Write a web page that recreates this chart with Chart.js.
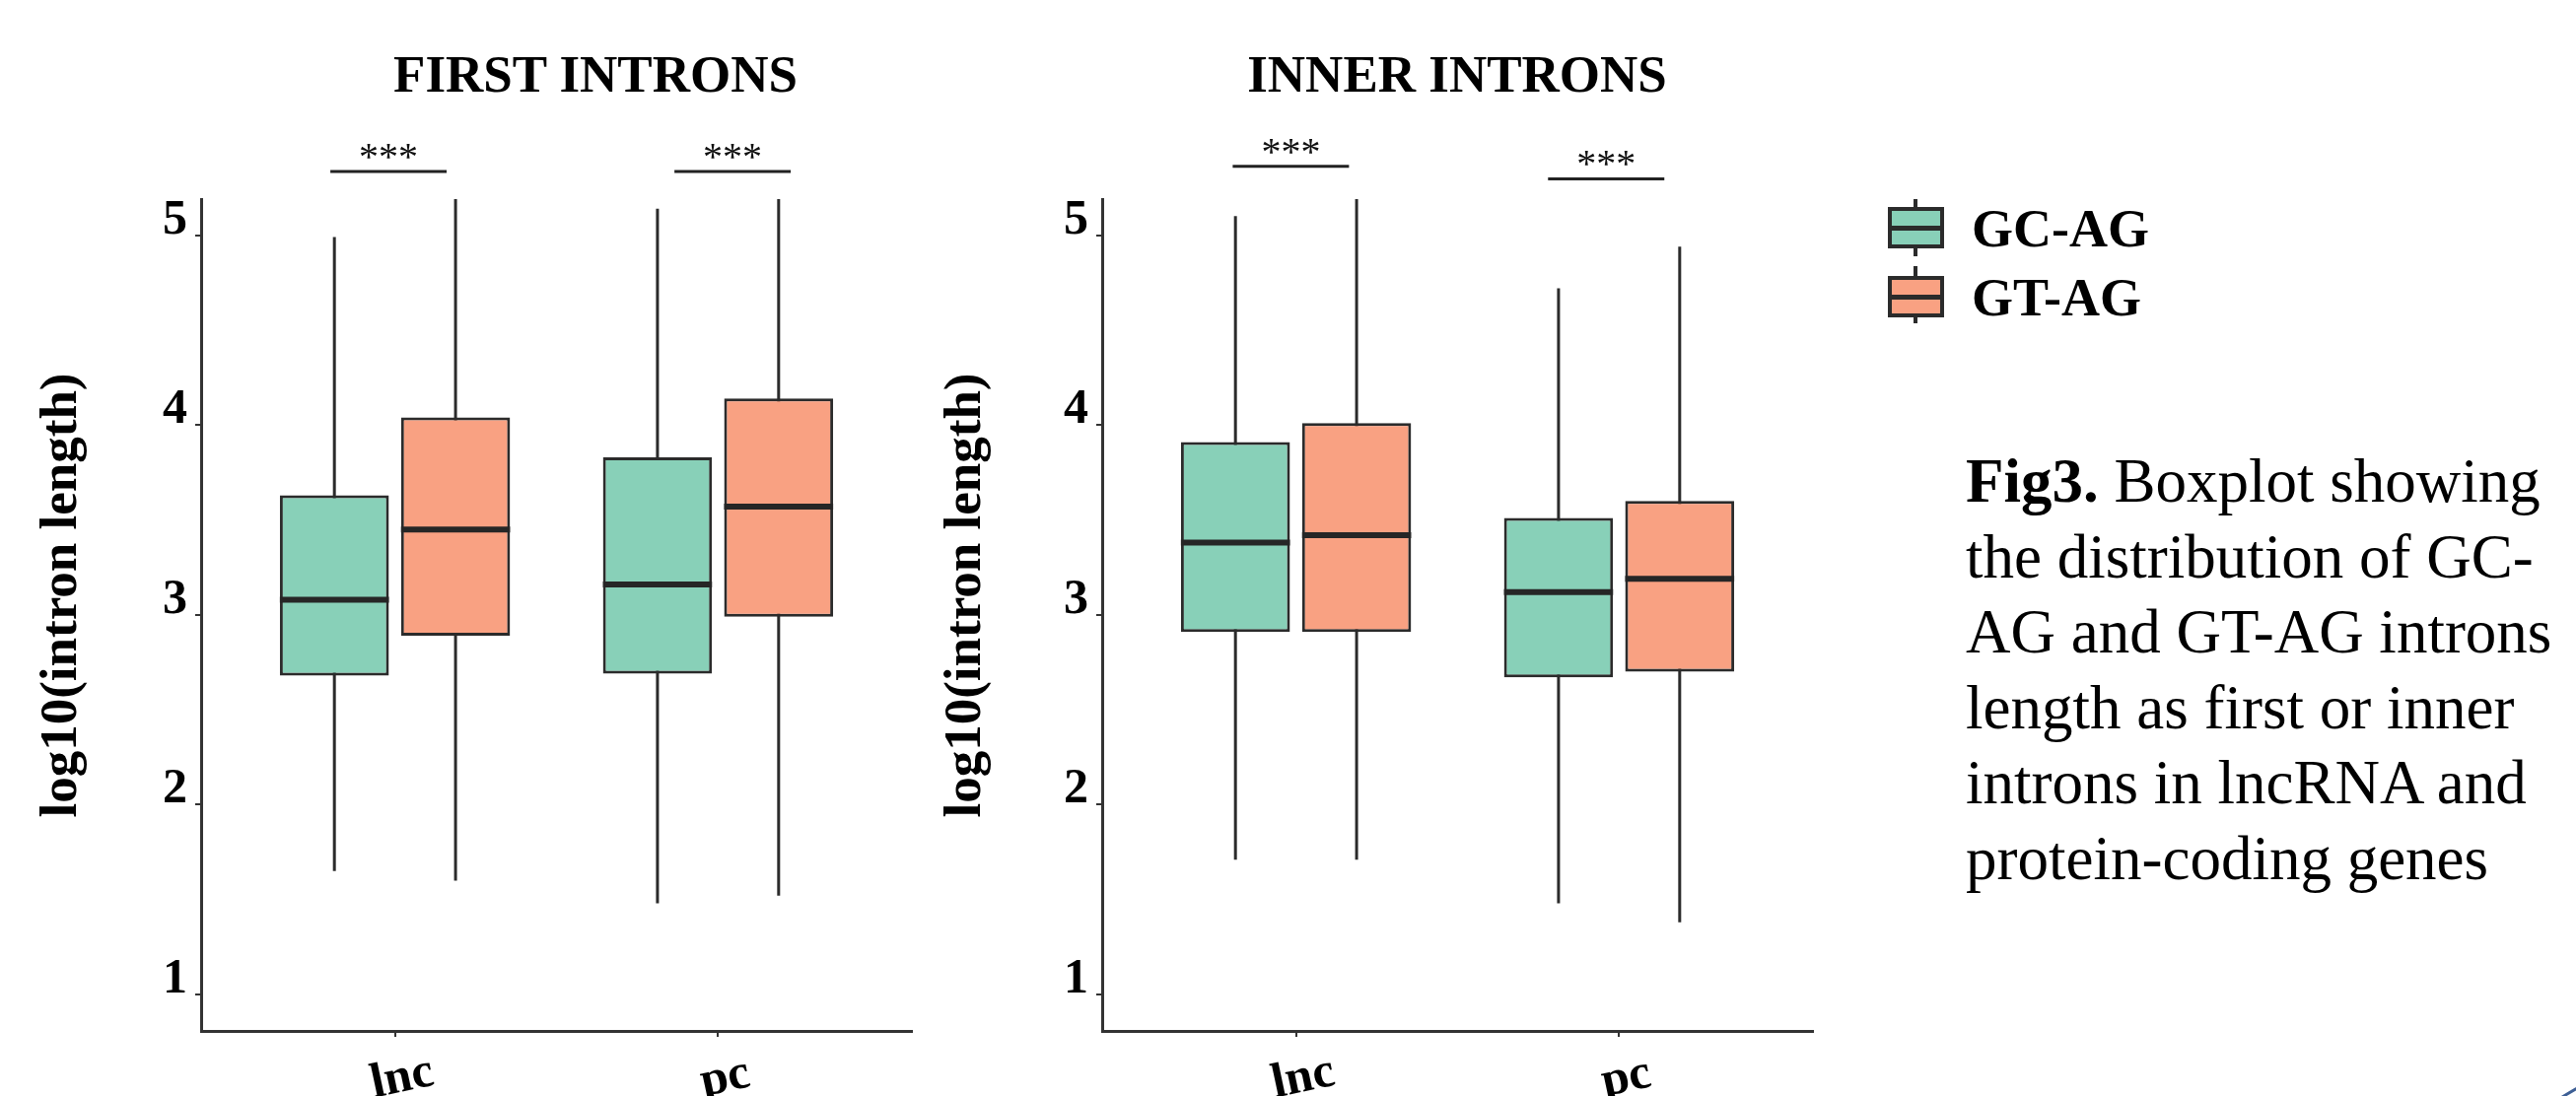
<!DOCTYPE html>
<html>
<head>
<meta charset="utf-8">
<script src="https://cdn.jsdelivr.net/npm/chart.js@4.4.1/dist/chart.umd.min.js"></script>
<style>
  html, body { margin: 0; padding: 0; background: #fff; }
  body { position: relative; width: 2613px; height: 1112px; overflow: hidden; font-family: "Liberation Serif", serif; color: #000; }
  canvas { position: absolute; top: 0; }
  #first { left: 0; }
  #inner { left: 940px; }
  .title { position: absolute; top: 49px; font-size: 53px; line-height: 53px; font-weight: bold; white-space: nowrap; transform: translateX(-50%); }
  .lbl { position: absolute; left: 2000px; font-size: 54px; line-height: 54px; font-weight: bold; white-space: nowrap; }
  .whisk { position: absolute; left: 1941px; width: 4px; height: 58px; background: #2b2b2b; }
  .box { position: absolute; left: 1915px; width: 57px; height: 42px; box-sizing: border-box; border: 4px solid #2b2b2b; }
  .med { position: absolute; left: 1915px; width: 57px; height: 5px; background: #2b2b2b; }
  #caption { position: absolute; left: 1994px; top: 450px; font-size: 63px; line-height: 76.6px; white-space: nowrap; }
  #arc { position: absolute; left: 2412px; top: 1050px; width: 800px; height: 800px; box-sizing: border-box; border: 3px solid #3d5f95; border-radius: 50%; }
</style>
</head>
<body>
<div class="title" style="left:604px">FIRST INTRONS</div>
<div class="title" style="left:1478px">INNER INTRONS</div>
<canvas id="first" width="960" height="1160"></canvas>
<canvas id="inner" width="940" height="1160"></canvas>

<div class="whisk" style="top:202px"></div>
<div class="box" style="top:210px;background:#88d0b8"></div>
<div class="med" style="top:229px"></div>
<div class="lbl" style="top:205px">GC-AG</div>
<div class="whisk" style="top:270px"></div>
<div class="box" style="top:280px;background:#f9a182"></div>
<div class="med" style="top:299px"></div>
<div class="lbl" style="top:275px">GT-AG</div>

<div id="caption"><b>Fig3.</b> Boxplot showing<br>the distribution of GC-<br>AG and GT-AG introns<br>length as first or inner<br>introns in lncRNA and<br>protein-coding genes</div>
<div id="arc"></div>

<script>
const categories = ["lnc", "pc"];
const seriesNames = ["GC-AG", "GT-AG"];
const seriesColors = ["#88d0b8", "#f9a182"];
const yTicks = [1, 2, 3, 4, 5];

// one row per category: [min, q1, median, q3, max]
const firstGC = [[1.65, 2.68, 3.08, 3.63, 4.99], [1.48, 2.69, 3.16, 3.83, 5.14]];
const firstGT = [[1.60, 2.89, 3.45, 4.04, 5.19], [1.52, 2.99, 3.57, 4.14, 5.19]];
const innerGC = [[1.71, 2.91, 3.38, 3.91, 5.10], [1.48, 2.67, 3.12, 3.51, 4.72]];
const innerGT = [[1.71, 2.91, 3.42, 4.01, 5.19], [1.38, 2.70, 3.19, 3.60, 4.94]];

// *** brackets: centre in category units, height in log10 units
const firstSigX = [-0.02, 1.045];
const firstSigY = [5.335, 5.335];
const innerSigX = [-0.016, 0.96];
const innerSigY = [5.363, 5.297];

const serif = "'Liberation Serif', serif";

// whiskers behind the boxes; medians, brackets and axis texts on top
const boxParts = {
  id: "boxParts",
  beforeDatasetsDraw(chart) {
    const ctx = chart.ctx, y = chart.scales.y;
    ctx.save();
    ctx.strokeStyle = "#2b2b2b";
    ctx.lineWidth = 3;
    chart.data.datasets.forEach((ds, i) => {
      chart.getDatasetMeta(i).data.forEach((bar, j) => {
        const s = ds.stats[j];
        ctx.beginPath();
        ctx.moveTo(bar.x, y.getPixelForValue(s[0]));
        ctx.lineTo(bar.x, y.getPixelForValue(s[4]));
        ctx.stroke();
      });
    });
    ctx.restore();
  },
  afterDatasetsDraw(chart, args, opts) {
    const ctx = chart.ctx, x = chart.scales.x, y = chart.scales.y;
    const area = chart.chartArea;
    ctx.save();
    ctx.strokeStyle = "#262626";
    ctx.lineWidth = 6;
    chart.data.datasets.forEach((ds, i) => {
      chart.getDatasetMeta(i).data.forEach((bar, j) => {
        const py = y.getPixelForValue(ds.stats[j][2]);
        ctx.beginPath();
        ctx.moveTo(bar.x - bar.width / 2, py);
        ctx.lineTo(bar.x + bar.width / 2, py);
        ctx.stroke();
      });
    });

    // significance brackets
    ctx.lineWidth = 3;
    ctx.strokeStyle = "#222";
    ctx.fillStyle = "#111";
    ctx.font = "40px " + serif;
    ctx.textAlign = "center";
    ctx.textBaseline = "alphabetic";
    opts.sigX.forEach((cx, k) => {
      const py = y.getPixelForValue(opts.sigY[k]);
      const x0 = x.getPixelForValue(cx - 0.18);
      const x1 = x.getPixelForValue(cx + 0.18);
      ctx.beginPath();
      ctx.moveTo(x0, py);
      ctx.lineTo(x1, py);
      ctx.stroke();
      ctx.fillText("***", (x0 + x1) / 2, py - 2);
    });

    // category labels, slightly tilted and centred on the ticks
    ctx.fillStyle = "#000";
    ctx.font = "bold 50px " + serif;
    categories.forEach((c, i) => {
      ctx.save();
      ctx.translate(x.getPixelForValue(i) + 10, area.bottom + 61);
      ctx.rotate(-12 * Math.PI / 180);
      ctx.fillText(c, 0, 0);
      ctx.restore();
    });

    // y axis title
    ctx.font = "bold 53px " + serif;
    ctx.textBaseline = "middle";
    ctx.translate(opts.titleX, (area.top + area.bottom) / 2 - 20);
    ctx.rotate(-Math.PI / 2);
    ctx.fillText("log10(intron length)", 0, 0);
    ctx.restore();
  }
};

function drawPanel(id, gc, gt, sigX, sigY, axisWidth, padRight, titleX) {
  new Chart(document.getElementById(id), {
    type: "bar",
    data: {
      datasets: [gc, gt].map((stats, k) => ({
        label: seriesNames[k],
        stats: stats,
        data: stats.map((s, i) => ({ x: i, y: [s[1], s[3]] })),
        backgroundColor: seriesColors[k],
        borderColor: "#2b2b2b",
        borderWidth: 3,
        borderSkipped: false,
        categoryPercentage: 0.75,
        barPercentage: 0.9
      }))
    },
    options: {
      responsive: false,
      animation: false,
      layout: { padding: { top: 202, right: padRight, bottom: 0, left: 0 } },
      plugins: {
        legend: { display: false },
        tooltip: { enabled: false },
        boxParts: { sigX: sigX, sigY: sigY, titleX: titleX }
      },
      scales: {
        x: {
          type: "linear",
          min: -0.6,
          max: 1.6,
          offset: false,
          afterBuildTicks: a => { a.ticks = categories.map((c, i) => ({ value: i })); },
          afterFit: a => { a.height = 114; },
          grid: { display: true, offset: false, drawOnChartArea: false, tickLength: 6, color: "#333", lineWidth: 2 },
          border: { display: true, color: "#333", width: 3 },
          ticks: { display: false }
        },
        y: {
          min: 0.808,
          max: 5.19,
          afterBuildTicks: a => { a.ticks = yTicks.map(v => ({ value: v })); },
          afterFit: a => { a.width = axisWidth; },
          grid: { display: true, drawOnChartArea: false, tickLength: 6, color: "#333", lineWidth: 2 },
          border: { display: true, color: "#333", width: 3 },
          ticks: {
            color: "#000",
            font: { family: serif, size: 50, weight: "bold" },
            padding: 8,
            labelOffset: -15
          }
        }
      }
    },
    plugins: [boxParts]
  });
}

drawPanel("first", firstGC, firstGT, firstSigX, firstSigY, 204, 35, 63);
drawPanel("inner", innerGC, innerGT, innerSigX, innerSigY, 178, 41, 40);
</script>
</body>
</html>
